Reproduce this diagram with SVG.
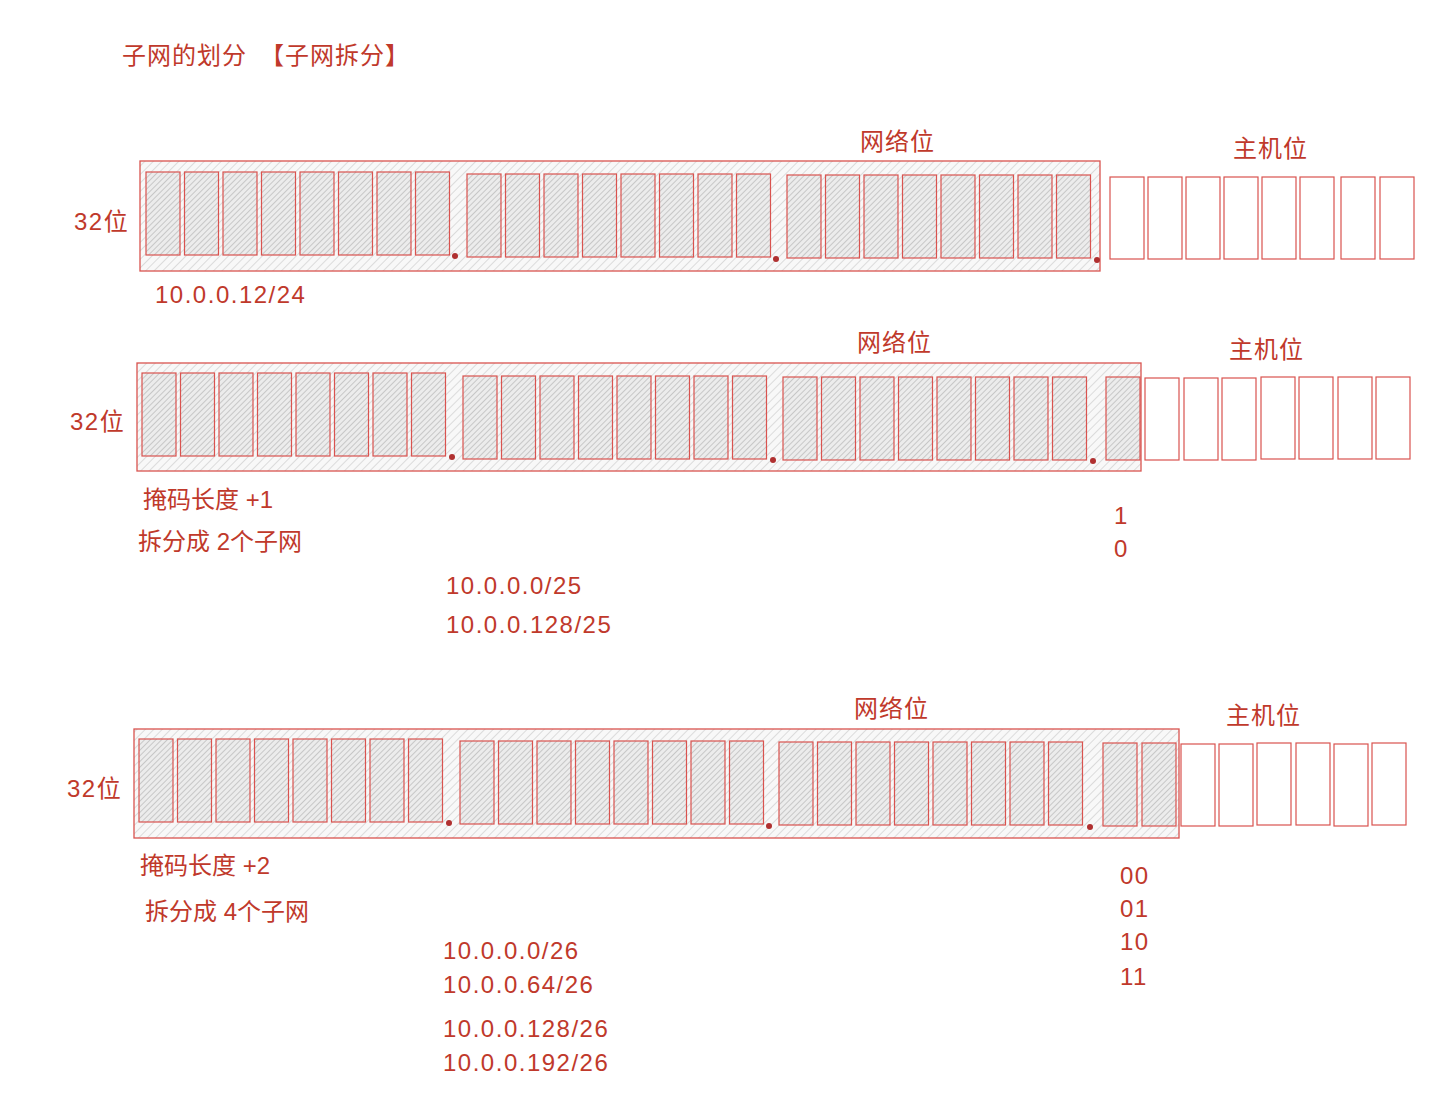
<svg xmlns="http://www.w3.org/2000/svg" width="1434" height="1118" viewBox="0 0 1434 1118">
<style>
.t{font-family:"Liberation Sans","Noto Sans CJK SC",sans-serif;fill:#c0392b;font-size:24px}
.n{letter-spacing:1.5px}
.outer{fill:url(#h);stroke:#d9534f;stroke-width:1.3}
.c{fill:url(#h2);stroke:#d9534f;stroke-width:1.2}
.hc{fill:#fff;stroke:#d9534f;stroke-width:1.2}
.dot{fill:#b03030}
</style>
<defs>
<pattern id="h" width="6" height="6" patternUnits="userSpaceOnUse" patternTransform="rotate(45)">
<rect width="6" height="6" fill="#f8f8f8"/><line x1="0" y1="0" x2="0" y2="6" stroke="#c8c8c8" stroke-width="1.2"/></pattern>
<pattern id="h2" width="4" height="4" patternUnits="userSpaceOnUse" patternTransform="rotate(45)">
<rect width="4" height="4" fill="#ececec"/><line x1="0" y1="0" x2="0" y2="4" stroke="#a8a8a8" stroke-width="1.1"/></pattern>
<g id="oct">
<rect class="c" x="0" y="0" width="34" height="83"/><rect class="c" x="38.5" y="0" width="34" height="83"/>
<rect class="c" x="77" y="0" width="34" height="83"/><rect class="c" x="115.5" y="0" width="34" height="83"/>
<rect class="c" x="154" y="0" width="34" height="83"/><rect class="c" x="192.5" y="0" width="34" height="83"/>
<rect class="c" x="231" y="0" width="34" height="83"/><rect class="c" x="269.5" y="0" width="34" height="83"/>
</g>
<rect id="hcell" class="hc" x="0" y="0" width="34" height="82"/>
</defs>
<text class="t" x="122" y="64" letter-spacing="1">子网的划分　【子网拆分】</text>

<g id="row1">
<rect class="outer" x="140" y="161" width="960" height="110"/>
<use href="#oct" x="146" y="172"/><use href="#oct" x="467" y="174"/><use href="#oct" x="787" y="175"/>
<circle class="dot" cx="455" cy="256" r="3"/><circle class="dot" cx="776" cy="259" r="3"/><circle class="dot" cx="1097" cy="260" r="3"/>
<use href="#hcell" x="1110" y="177"/><use href="#hcell" x="1148" y="177"/><use href="#hcell" x="1186" y="177"/><use href="#hcell" x="1224" y="177"/>
<use href="#hcell" x="1262" y="177"/><use href="#hcell" x="1300" y="177"/><use href="#hcell" x="1341" y="177"/><use href="#hcell" x="1380" y="177"/>
<text class="t n" x="74" y="230">32位</text>
<text class="t" x="860" y="150" letter-spacing="1">网络位</text>
<text class="t" x="1233" y="157" letter-spacing="1">主机位</text>
<text class="t n" x="155" y="303">10.0.0.12/24</text>
</g>

<g id="row2">
<rect class="outer" x="137" y="363" width="1004" height="108"/>
<use href="#oct" x="142" y="373"/><use href="#oct" x="463" y="376"/><use href="#oct" x="783" y="377"/>
<rect class="c" x="1106" y="377" width="34" height="83"/>
<circle class="dot" cx="452" cy="457" r="3"/><circle class="dot" cx="773" cy="460" r="3"/><circle class="dot" cx="1093" cy="461" r="3"/>
<use href="#hcell" x="1145" y="378"/><use href="#hcell" x="1184" y="378"/><use href="#hcell" x="1222" y="378"/><use href="#hcell" x="1261" y="377"/>
<use href="#hcell" x="1299" y="377"/><use href="#hcell" x="1338" y="377"/><use href="#hcell" x="1376" y="377"/>
<text class="t n" x="70" y="430">32位</text>
<text class="t" x="857" y="351" letter-spacing="1">网络位</text>
<text class="t" x="1229" y="358" letter-spacing="1">主机位</text>
<text class="t" x="143" y="508">掩码长度  +1</text>
<text class="t" x="138" y="550">拆分成  2个子网</text>
<text class="t" x="1114" y="524">1</text>
<text class="t" x="1114" y="557">0</text>
<text class="t n" x="446" y="594">10.0.0.0/25</text>
<text class="t n" x="446" y="633">10.0.0.128/25</text>
</g>

<g id="row3">
<rect class="outer" x="134" y="729" width="1045" height="109"/>
<use href="#oct" x="139" y="739"/><use href="#oct" x="460" y="741"/><use href="#oct" x="779" y="742"/>
<rect class="c" x="1103" y="743" width="34" height="83"/><rect class="c" x="1142" y="743" width="34" height="83"/>
<circle class="dot" cx="449" cy="823" r="3"/><circle class="dot" cx="769" cy="826" r="3"/><circle class="dot" cx="1090" cy="827" r="3"/>
<use href="#hcell" x="1181" y="744"/><use href="#hcell" x="1219" y="744"/><use href="#hcell" x="1257" y="743"/><use href="#hcell" x="1296" y="743"/>
<use href="#hcell" x="1334" y="744"/><use href="#hcell" x="1372" y="743"/>
<text class="t n" x="67" y="797">32位</text>
<text class="t" x="854" y="717" letter-spacing="1">网络位</text>
<text class="t" x="1226" y="724" letter-spacing="1">主机位</text>
<text class="t" x="140" y="874">掩码长度  +2</text>
<text class="t" x="145" y="920">拆分成 4个子网</text>
<text class="t n" x="1120" y="884">00</text>
<text class="t n" x="1120" y="917">01</text>
<text class="t n" x="1120" y="950">10</text>
<text class="t n" x="1120" y="985">11</text>
<text class="t n" x="443" y="959">10.0.0.0/26</text>
<text class="t n" x="443" y="993">10.0.0.64/26</text>
<text class="t n" x="443" y="1037">10.0.0.128/26</text>
<text class="t n" x="443" y="1071">10.0.0.192/26</text>
</g>
</svg>
